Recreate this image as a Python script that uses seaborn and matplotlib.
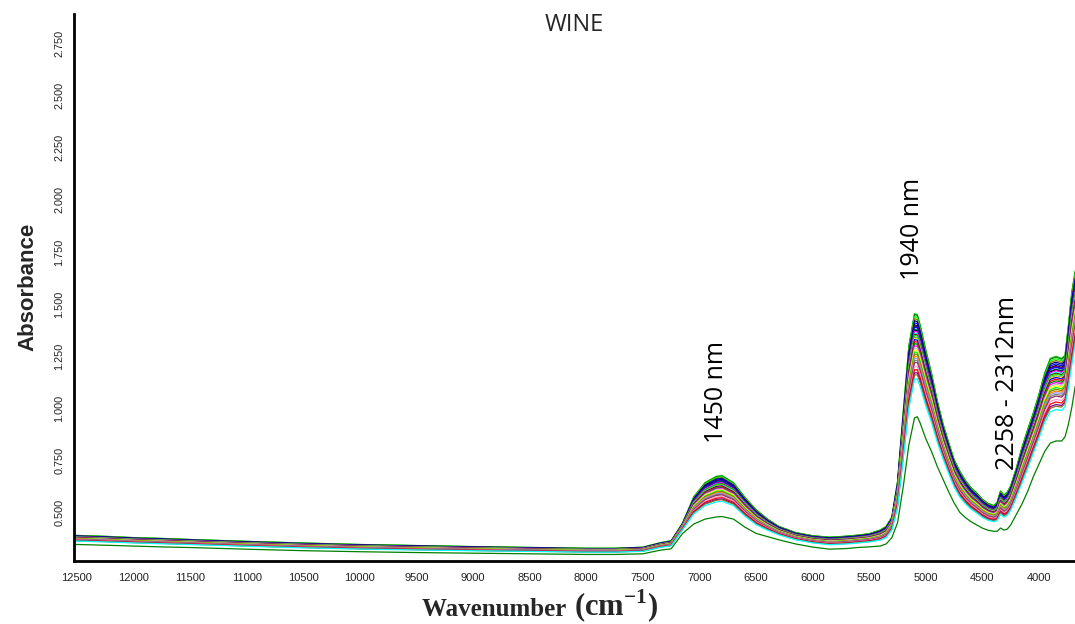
import numpy as np
import pandas as pd
import matplotlib
matplotlib.use("Agg")
import matplotlib.pyplot as plt
import seaborn as sns

# Wavenumber grid (cm-1) shared by the envelope spectra
wavenumber = [12530, 12250, 12000, 11750, 11500, 11000, 10500, 10000, 9500, 9000,
              8500, 8000, 7750, 7500, 7350, 7250, 7150, 7050, 6950, 6850,
              6800, 6700, 6600, 6500, 6400, 6300, 6150, 6000, 5850, 5700,
              5600, 5500, 5400, 5350, 5300, 5250, 5200, 5150, 5100, 5075,
              5050, 5000, 4950, 4900, 4850, 4800, 4750, 4700, 4650, 4600,
              4550, 4500, 4450, 4400, 4370, 4340, 4310, 4280, 4250, 4200,
              4150, 4100, 4050, 4000, 3950, 3900, 3850, 3800, 3770, 3740,
              3710, 3680]

# Highest-absorbing wine spectrum
upper = [0.392, 0.387, 0.381, 0.377, 0.372, 0.363, 0.355, 0.348, 0.343, 0.338,
         0.334, 0.330, 0.330, 0.335, 0.356, 0.366, 0.450, 0.577, 0.645, 0.675,
         0.678, 0.645, 0.575, 0.515, 0.470, 0.435, 0.405, 0.390, 0.383, 0.388,
         0.393, 0.400, 0.418, 0.435, 0.480, 0.650, 0.980, 1.300, 1.455, 1.450,
         1.400, 1.280, 1.170, 1.040, 0.930, 0.840, 0.755, 0.700, 0.655, 0.620,
         0.595, 0.565, 0.545, 0.535, 0.550, 0.605, 0.585, 0.600, 0.630, 0.715,
         0.815, 0.900, 0.980, 1.070, 1.170, 1.240, 1.250, 1.240, 1.255, 1.400,
         1.560, 1.660]

# Lowest-absorbing wine spectrum
lower = [0.348, 0.344, 0.340, 0.336, 0.333, 0.325, 0.318, 0.313, 0.309, 0.306,
         0.303, 0.300, 0.300, 0.303, 0.320, 0.327, 0.400, 0.445, 0.468, 0.478,
         0.480, 0.468, 0.430, 0.400, 0.385, 0.370, 0.350, 0.335, 0.325, 0.328,
         0.333, 0.336, 0.340, 0.350, 0.380, 0.450, 0.620, 0.820, 0.950, 0.955,
         0.925, 0.850, 0.790, 0.720, 0.660, 0.600, 0.545, 0.500, 0.475, 0.455,
         0.440, 0.425, 0.415, 0.410, 0.410, 0.425, 0.415, 0.420, 0.440, 0.490,
         0.540, 0.600, 0.670, 0.730, 0.790, 0.830, 0.840, 0.840, 0.860, 0.920,
         1.000, 1.100]

# Absorbance of each sample at the 1940 nm water band maximum (5100 cm-1)
peak_1940 = [1.455, 1.450, 1.440, 1.430, 1.420, 1.410, 1.400, 1.395, 1.390, 1.380,
             1.375, 1.370, 1.360, 1.355, 1.350, 1.340, 1.335, 1.330, 1.320, 1.310,
             1.300, 1.290, 1.280, 1.270, 1.260, 1.250, 1.240, 1.230, 1.220, 1.200,
             1.185, 1.170, 1.160, 1.140, 0.955]

sample_colors = ["#33CC33", "#008000", "#00FF00", "#808000", "#000080", "#0000FF",
                 "#000000", "#800080", "#0000FF", "#008080", "#000000", "#FF00FF",
                 "#00FFFF", "#800000", "#00FF00", "#808080", "#FFFF00", "#0000FF",
                 "#FF0000", "#008000", "#FF00FF", "#C0C0C0", "#FFFF00", "#00FF00",
                 "#808000", "#FF8000", "#9999FF", "#808080", "#993366", "#FF99CC",
                 "#FF0000", "#800080", "#996633", "#00FFFF", "#008000"]

x_ticks = [12500, 12000, 11500, 11000, 10500, 10000, 9500, 9000, 8500, 8000,
           7500, 7000, 6500, 6000, 5500, 5000, 4500, 4000]
y_ticks = [0.5, 0.75, 1.0, 1.25, 1.5, 1.75, 2.0, 2.25, 2.5, 2.75]

band_labels = ["1450 nm", "1940 nm", "2258 - 2312nm"]
band_pos = [(6854, 1.077), (5122, 1.86), (4279, 1.12)]

# Build each sample spectrum between the two envelopes, weighted by its 1940 nm peak
w = np.array(wavenumber, dtype=float)
up = np.array(upper)
lo = np.array(lower)
k = wavenumber.index(5100)
hi_peak, lo_peak = upper[k], lower[k]
frames = []
for i, p in enumerate(peak_1940):
    frac = (p - lo_peak) / (hi_peak - lo_peak)
    frames.append(pd.DataFrame({
        "wavenumber": w,
        "absorbance": lo + frac * (up - lo),
        "sample": f"S{i + 1:02d}",
    }))
df = pd.concat(frames, ignore_index=True)

sns.set_style("white")
plt.rcParams["mathtext.fontset"] = "custom"
plt.rcParams["mathtext.rm"] = "Liberation Serif:bold"
plt.rcParams["mathtext.bf"] = "Liberation Serif:bold"

fig = plt.figure(figsize=(10.75, 6.24), dpi=100)
ax = fig.add_axes([0.0688, 0.101, 0.9312, 0.8766])

sns.lineplot(data=df, x="wavenumber", y="absorbance", hue="sample",
             palette=sample_colors, sort=False, estimator=None,
             legend=False, linewidth=0.9, ax=ax)

ax.set_xlim(12527, 3682)
ax.set_ylim(0.269, 2.89)
ax.set_xticks(x_ticks)
ax.set_xticklabels([str(t) for t in x_ticks], fontsize=8,
                   family="Liberation Sans", color="#222222")
ax.set_yticks(y_ticks)
ax.set_yticklabels([f"{t:.3f}" for t in y_ticks], fontsize=7.8,
                   family="Liberation Sans", color="#222222",
                   rotation=90, va="center")
ax.tick_params(axis="both", direction="out", length=4, width=1.4,
               colors="black", labelcolor="#222222")
ax.tick_params(axis="x", pad=5)
ax.tick_params(axis="y", pad=3)

for side in ("top", "right"):
    ax.spines[side].set_visible(False)
for side in ("left", "bottom"):
    ax.spines[side].set_linewidth(2.0)
    ax.spines[side].set_color("black")

ax.set_xlabel("")
ax.set_ylabel("")

fig.text(28 / 1075, 1 - 287 / 624, "Absorbance", rotation=90,
         ha="center", va="center", fontsize=16, fontweight="bold",
         family="Liberation Sans")

fig.text(572 / 1075, 1 - 616 / 624, "Wavenumber ", ha="right", va="baseline",
         fontsize=18, fontweight="bold", family="Liberation Serif")
fig.text(574 / 1075, 1 - 616 / 624, r"(cm$^{\mathbf{-1}}$)", ha="left",
         va="baseline", fontsize=22, fontweight="bold", family="Liberation Serif")

fig.text(574 / 1075, 1 - 25 / 624, "WINE", ha="center", va="center",
         fontsize=17, family="Open Sans")

for label, (bx, by) in zip(band_labels, band_pos):
    ax.text(bx, by, label, rotation=90, ha="center", va="center",
            fontsize=18, family="Open Sans", color="black")

fig.savefig("out.png", dpi=100, facecolor="white")
